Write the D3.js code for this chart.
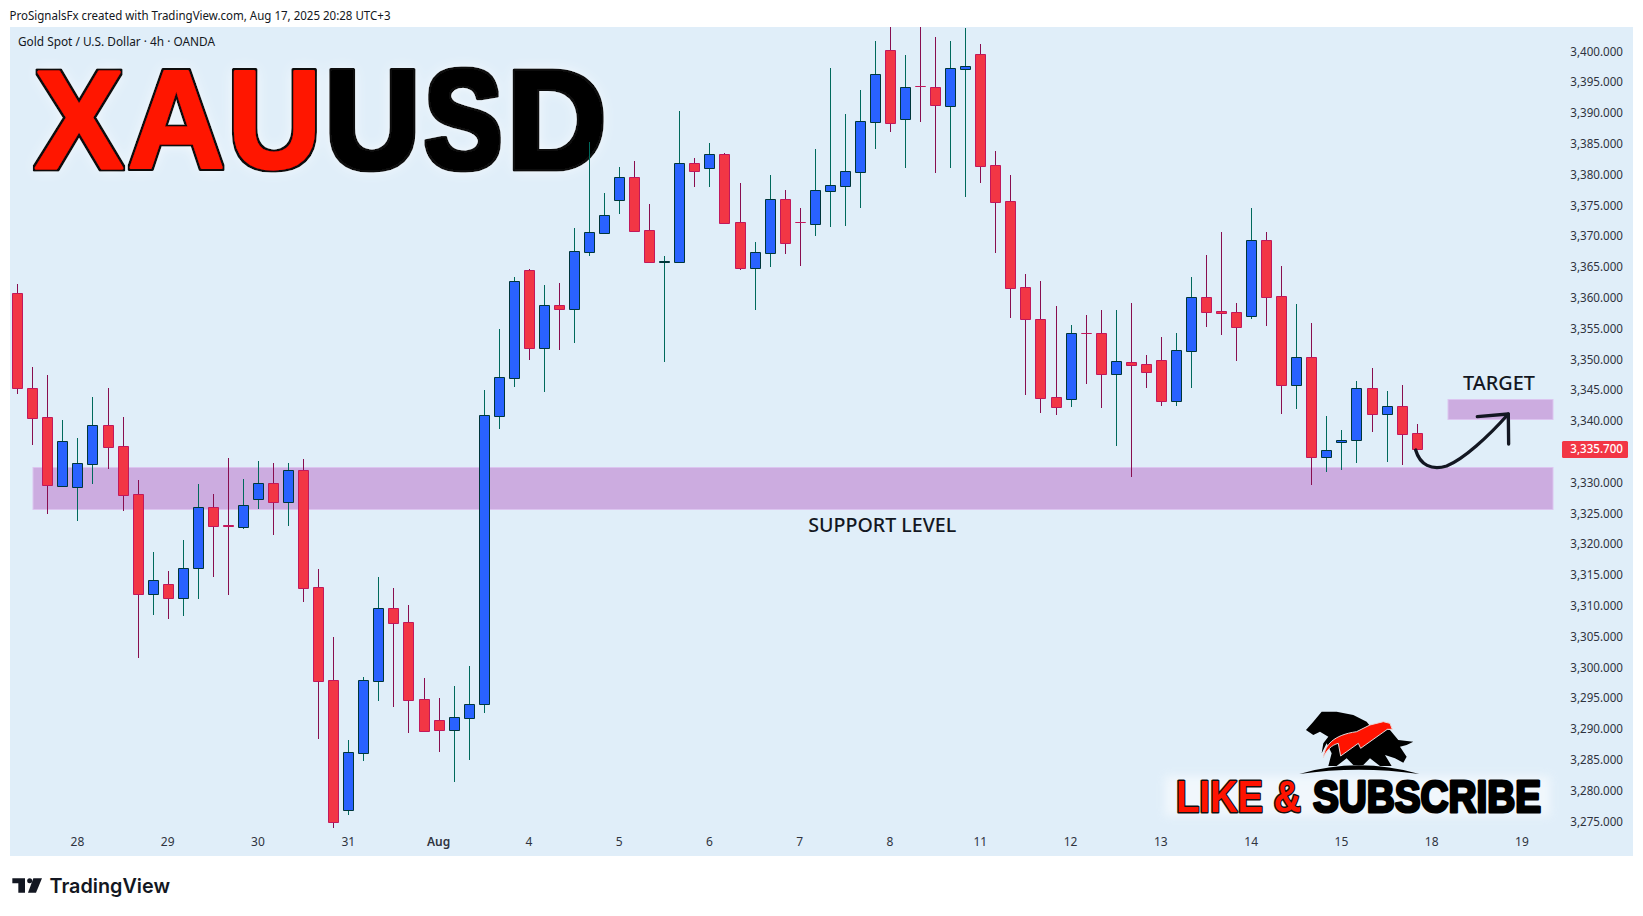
<!DOCTYPE html>
<html><head><meta charset="utf-8">
<script src="https://cdn.jsdelivr.net/npm/d3@7/dist/d3.min.js"></script>
<style>html,body{margin:0;padding:0;background:#fff;overflow:hidden}svg{display:block}</style>
</head><body><div id="chart"></div>
<script>
const opens=[3360.7,3345.3,3340.6,3329.5,3329.2,3333.05,3339.3,3335.9,3328.2,3311.95,3313.5,3311.3,3316.2,3326.1,3323.05,3322.8,3327.4,3329.85,3326.9,3332.0,3313.0,3297.9,3276.9,3286.1,3297.7,3309.55,3307.3,3294.8,3291.4,3289.9,3291.8,3294.0,3340.8,3347.0,3364.45,3351.9,3358.75,3358.2,3367.5,3370.55,3375.9,3379.55,3370.95,3365.85,3365.85,3381.8,3381.1,3383.3,3372.25,3364.9,3367.3,3375.95,3372.3,3372.0,3377.4,3378.2,3380.45,3388.6,3400.15,3389.05,3394.35,3394.15,3391.2,3397.2,3399.5,3381.5,3375.65,3361.7,3356.5,3343.8,3343.6,3354.25,3354.2,3347.65,3349.5,3349.2,3349.85,3343.3,3351.4,3360.05,3357.8,3357.6,3357.1,3369.3,3360.2,3345.9,3350.3,3334.1,3336.5,3336.85,3345.3,3341.05,3342.5,3338.0];
const highs=[3362.2,3348.75,3347.45,3340.15,3337.2,3343.9,3345.3,3340.6,3330.4,3318.7,3315.65,3320.7,3329.75,3328.1,3334.0,3330.6,3333.5,3333.15,3333.15,3333.8,3316.0,3304.9,3288.2,3298.4,3314.65,3312.9,3310.1,3298.3,3295.0,3297.0,3300.2,3345.0,3354.9,3363.35,3364.6,3362.05,3362.4,3371.3,3385.3,3377.0,3381.2,3382.2,3375.2,3366.75,3390.3,3382.6,3385.1,3383.5,3378.6,3369.05,3379.9,3377.5,3374.55,3384.1,3397.3,3389.8,3393.7,3401.65,3403.9,3399.4,3404.0,3402.3,3401.65,3403.8,3401.2,3383.8,3379.9,3363.85,3362.7,3358.65,3355.55,3357.2,3358.0,3358.0,3359.15,3350.7,3353.6,3354.2,3363.35,3366.9,3370.65,3359.15,3374.55,3370.65,3365.1,3359.0,3355.9,3340.8,3338.5,3346.5,3348.6,3344.85,3345.8,3339.5];
const lows=[3344.4,3336.1,3324.9,3329.4,3323.8,3329.8,3332.25,3325.4,3301.55,3308.5,3307.9,3308.4,3311.1,3314.7,3311.7,3322.45,3325.7,3321.5,3322.95,3310.6,3288.4,3273.9,3276.0,3284.8,3294.5,3293.55,3289.3,3289.7,3286.25,3281.4,3285.0,3292.6,3338.75,3345.55,3349.95,3344.7,3351.55,3352.7,3366.8,3370.55,3373.65,3370.9,3365.7,3349.6,3365.85,3378.0,3378.0,3372.2,3364.55,3358.0,3365.0,3367.15,3365.2,3370.05,3371.5,3371.65,3374.55,3384.15,3386.9,3381.05,3388.5,3380.25,3381.05,3376.35,3378.6,3367.25,3356.7,3344.2,3341.3,3340.95,3342.25,3346.0,3342.1,3335.9,3330.9,3345.35,3342.4,3342.4,3345.35,3355.25,3353.95,3349.7,3356.55,3355.4,3341.1,3341.95,3329.65,3331.75,3332.1,3333.2,3338.25,3333.4,3332.9,3335.4];
const closes=[3345.3,3340.5,3329.65,3336.7,3333.1,3339.4,3335.8,3328.0,3311.95,3314.1,3311.3,3316.2,3326.1,3323.0,3323.0,3326.3,3330.0,3326.9,3332.0,3312.9,3297.8,3274.95,3286.2,3297.9,3309.55,3307.25,3294.75,3289.7,3289.9,3291.9,3294.0,3340.95,3347.05,3362.65,3351.9,3358.75,3358.2,3367.55,3370.6,3373.4,3379.55,3370.9,3365.85,3365.9,3381.8,3380.6,3383.3,3372.2,3364.9,3367.4,3375.95,3368.95,3372.25,3377.45,3378.25,3380.5,3388.65,3396.25,3388.4,3394.15,3394.3,3391.35,3397.25,3397.55,3381.45,3375.6,3361.6,3356.6,3343.75,3342.3,3354.2,3354.2,3347.65,3349.65,3349.1,3348.0,3343.3,3351.45,3360.05,3357.75,3357.55,3355.3,3369.3,3360.15,3345.9,3350.3,3334.1,3335.2,3336.85,3345.3,3341.15,3342.35,3337.9,3335.4];
const dateLabels=["28","29","30","31","Aug","4","5","6","7","8","11","12","13","14","15","18","19"];
const dateIndex=[4,10,16,22,28,34,40,46,52,58,64,70,76,82,88,94,100];
const priceTicks=[3275,3280,3285,3290,3295,3300,3305,3310,3315,3320,3325,3330,3335,3340,3345,3350,3355,3360,3365,3370,3375,3380,3385,3390,3395,3400];
const lastPrice=3335.7;
const supportZone={from:1,to:102,top:3332.5,bottom:3325.7};
const targetZone={from:95,to:102,top:3343.5,bottom:3340.35};

const W=1643,H=916;
const svg=d3.select("#chart").append("svg").attr("width",W).attr("height",H).attr("viewBox",`0 0 ${W} ${H}`);
const pane={x:10,y:27,w:1623,h:829};
const axisFont="'Noto Sans', Roboto, sans-serif";
const x=d3.scaleLinear().domain([0,100]).range([17.23,17.23+1504.76]);
const y=d3.scaleLinear().domain([3350,3275]).range([359.3,359.3+75*6.16]);
const cx=i=>Math.round(x(i));
const cy=p=>Math.round(y(p));

svg.append("defs").html(`
<clipPath id="paneClip"><rect x="${pane.x}" y="${pane.y}" width="${pane.w}" height="${pane.h}"/></clipPath>
<filter id="glow" filterUnits="userSpaceOnUse" x="0" y="30" width="650" height="180"><feMorphology in="SourceAlpha" operator="dilate" radius="2.4" result="d"/><feGaussianBlur in="d" stdDeviation="0.7" result="db"/><feFlood flood-color="#0a0a0a" result="dk"/><feComposite in="dk" in2="db" operator="in" result="edge"/><feGaussianBlur in="SourceAlpha" stdDeviation="7" result="b"/><feFlood flood-color="#fff" flood-opacity="0.85"/><feComposite in2="b" operator="in" result="halo"/><feMerge><feMergeNode in="halo"/><feMergeNode in="edge"/><feMergeNode in="SourceGraphic"/></feMerge></filter>
<filter id="soft" x="-10%" y="-40%" width="120%" height="180%"><feGaussianBlur stdDeviation="5"/></filter>`);

svg.append("rect").attr("x",pane.x).attr("y",pane.y).attr("width",pane.w).attr("height",pane.h).attr("fill","#e0eef9");

svg.append("text").attr("x",9.5).attr("y",19.5).attr("font-family",axisFont).attr("font-size",12).attr("fill","#131722")
  .attr("textLength",381).attr("lengthAdjust","spacingAndGlyphs").text("ProSignalsFx created with TradingView.com, Aug 17, 2025 20:28 UTC+3");
svg.append("text").attr("x",18).attr("y",46).attr("font-family",axisFont).attr("font-size",12).attr("fill","#131722")
  .attr("textLength",197).attr("lengthAdjust","spacingAndGlyphs").text("Gold Spot / U.S. Dollar · 4h · OANDA");

// big title, one text per letter
const titleLetters=[
 {ch:"X",x:35,len:88,red:true},{ch:"A",x:127.7,len:97,red:true},{ch:"U",x:227.6,len:94,red:true},
 {ch:"U",x:324.7,len:95.4,red:false},{ch:"S",x:424.3,len:78,red:false},{ch:"D",x:507.1,len:99,red:false}];
const title=svg.append("g").attr("filter","url(#glow)").attr("font-family","'Liberation Sans',Arial,sans-serif").attr("font-weight",700).attr("font-size",140)
  .attr("stroke-linejoin","round");
titleLetters.forEach(l=>{
  title.append("text").attr("x",l.x).attr("y",167.7).attr("textLength",l.len).attr("lengthAdjust","spacingAndGlyphs")
    .attr("fill",l.red?"#ff1300":"#000").attr("stroke",l.red?"#ff1300":"#000").attr("stroke-width",3).text(l.ch);
});

// zones
[supportZone,targetZone].forEach(z=>{
  svg.append("rect").attr("x",cx(z.from)+1).attr("y",cy(z.top)+0.5)
    .attr("width",cx(z.to)-cx(z.from)).attr("height",cy(z.bottom)-cy(z.top))
    .attr("fill","#ccace0").attr("stroke","#dcc5f0").attr("stroke-width",1);
});

// candles
const data=opens.map((o,i)=>({i,o,h:highs[i],l:lows[i],c:closes[i],up:closes[i]>=o}));
const cand=svg.append("g").attr("clip-path","url(#paneClip)");
cand.selectAll("line.w").data(data).join("line").attr("class","w")
  .attr("x1",d=>cx(d.i)+.5).attr("x2",d=>cx(d.i)+.5).attr("y1",d=>cy(d.h)).attr("y2",d=>cy(d.l))
  .attr("stroke",d=>d.up?"#00695c":"#880e4f").attr("stroke-width",1);
cand.selectAll("path.b").data(data).join("path").attr("class","b")
  .attr("d",d=>{const t=cy(Math.max(d.o,d.c))+.5,b=cy(Math.min(d.o,d.c))+.5,l=cx(d.i)-4.5;return `M${l},${t}H${l+10}V${b}H${l}Z`;})
  .attr("fill",d=>d.up?"#2962ff":"#f23645").attr("stroke",d=>d.up?"#00363a":"#c2185b").attr("stroke-width",1);

// axis labels
svg.append("g").selectAll("text").data(priceTicks).join("text")
  .attr("x",1623).attr("y",d=>y(d)+4.3).attr("text-anchor","end").attr("font-family",axisFont).attr("font-size",12).attr("fill","#2f333e")
  .attr("textLength",52.7).attr("lengthAdjust","spacingAndGlyphs").text(d=>d3.format(",.3f")(d));
svg.append("g").selectAll("text").data(dateLabels).join("text")
  .attr("x",(d,i)=>x(dateIndex[i])).attr("y",846).attr("text-anchor","middle").attr("font-family",axisFont).attr("font-size",12).attr("fill","#2f333e")
  .attr("font-weight",d=>d==="Aug"?600:400).text(d=>d);

// last price tag
const tagY=y(lastPrice)+2;
svg.append("rect").attr("x",1562).attr("y",tagY-8.5).attr("width",66).attr("height",17).attr("rx",1.5).attr("fill","#f23645");
svg.append("text").attr("x",1623).attr("y",tagY+3.4).attr("text-anchor","end").attr("font-family",axisFont).attr("font-size",12).attr("font-weight",500).attr("fill","#fff")
  .attr("textLength",52.7).attr("lengthAdjust","spacingAndGlyphs").text(d3.format(",.3f")(lastPrice));

// annotations
const noteFont="'Noto Sans','Open Sans',sans-serif";
svg.append("text").attr("x",1499).attr("y",390).attr("text-anchor","middle").attr("font-family",noteFont).attr("font-size",19).attr("font-weight",500).attr("fill","#131722").attr("textLength",72).attr("lengthAdjust","spacingAndGlyphs").text("TARGET");
svg.append("text").attr("x",882.2).attr("y",531.7).attr("text-anchor","middle").attr("font-family",noteFont).attr("font-size",19).attr("font-weight",500).attr("fill","#131722").attr("textLength",148).attr("lengthAdjust","spacingAndGlyphs").text("SUPPORT LEVEL");

const arrow=svg.append("g").attr("transform","translate(1240,340) scale(0.3333)").attr("fill","none").attr("stroke","#131722").attr("stroke-width",10).attr("stroke-linecap","round").attr("stroke-linejoin","round");
arrow.append("path").attr("d","M527,330 C540,375 575,392 620,378 C670,358 745,290 805,222");
arrow.append("path").attr("d","M712,230 L805,222 L806,312");

// logo and like & subscribe
svg.append("rect").attr("x",1165).attr("y",776).attr("width",385).attr("height",40).attr("fill","#fff").attr("opacity",.55).attr("filter","url(#soft)");
const logo=svg.append("g").attr("transform","translate(1150,690) scale(0.3333)");
logo.append("path").attr("fill","#000").attr("d","M468,120 L490,95 L515,65 L560,65 L610,75 L650,95 L662,110 L720,120 L745,150 L790,155 L770,165 L750,170 L770,200 L760,218 L735,205 L705,195 L725,228 L690,228 L660,205 L640,225 L610,225 L590,205 L560,228 L535,228 L545,190 L530,160 L515,190 L520,160 L535,140 L510,125 L490,135 Z");
logo.append("path").attr("fill","#ff1300").attr("stroke","#e8d8d8").attr("stroke-width",3).attr("d","M520,203 C525,165 550,135 620,125 L660,105 L700,95 L720,100 L727,118 L712,118 L632,175 L625,160 L572,198 L565,160 C545,165 530,180 520,203 Z");
logo.append("path").attr("fill","#000").attr("d","M448,252 Q625,200 808,252 Q625,226 448,252 Z");

const ls=svg.append("g").attr("font-family","'Liberation Sans',Arial,sans-serif").attr("font-weight",700).attr("font-size",44).attr("stroke-linejoin","round");
ls.append("text").attr("x",1176).attr("y",812).attr("textLength",125).attr("lengthAdjust","spacingAndGlyphs").attr("fill","#ff1300").attr("stroke","#111").attr("stroke-width",3).attr("paint-order","stroke").text("LIKE &");
ls.append("text").attr("x",1313).attr("y",812).attr("textLength",228).attr("lengthAdjust","spacingAndGlyphs").attr("fill","#000").attr("stroke","#000").attr("stroke-width",3).text("SUBSCRIBE");

// footer
const tv=svg.append("g").attr("transform","translate(0,840) scale(0.3333)").attr("fill","#131722");
tv.append("path").attr("d","M37,115 H75 V158 H55 V130 H37 Z");
tv.append("circle").attr("cx",89).attr("cy",122).attr("r",7.5);
tv.append("path").attr("d","M100,115 H126 L108,158 H84 Z");
svg.append("text").attr("x",49.5).attr("y",892.7).attr("font-family","Inter,Roboto,sans-serif").attr("font-weight",600).attr("font-size",20).attr("fill","#131722").attr("textLength",120.5).attr("lengthAdjust","spacingAndGlyphs").text("TradingView");
</script></body></html>
